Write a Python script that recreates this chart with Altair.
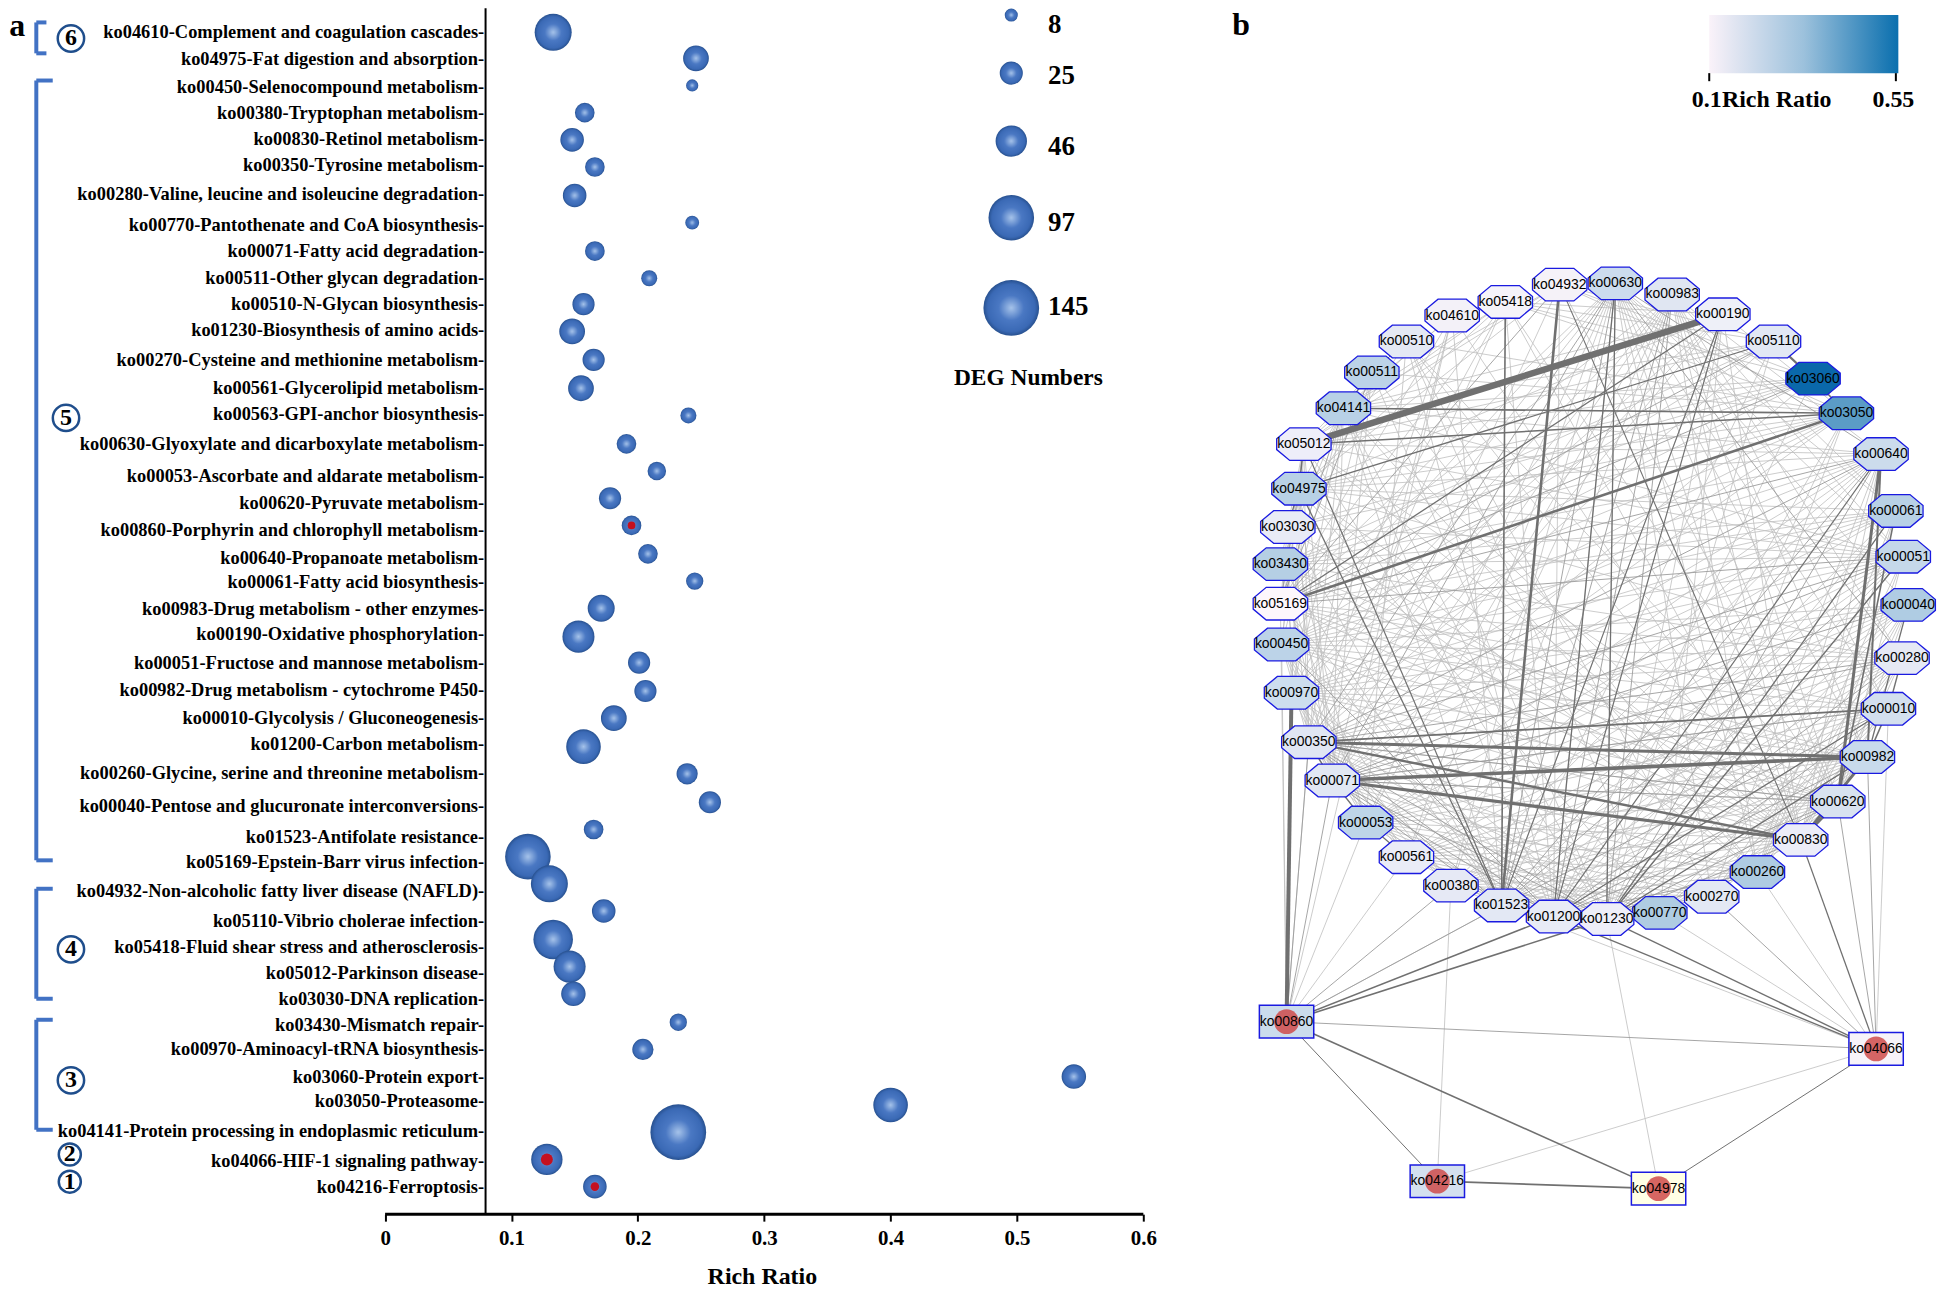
import altair as alt
import pandas as pd

SERIF = "Liberation Serif"
SANS = "Liberation Sans"

# ---------- panel a ----------
pathways = ["ko04610-Complement and coagulation cascades-", "ko04975-Fat digestion and absorption-",
    "ko00450-Selenocompound metabolism-", "ko00380-Tryptophan metabolism-", "ko00830-Retinol metabolism-",
    "ko00350-Tyrosine metabolism-", "ko00280-Valine, leucine and isoleucine degradation-",
    "ko00770-Pantothenate and CoA biosynthesis-", "ko00071-Fatty acid degradation-",
    "ko00511-Other glycan degradation-", "ko00510-N-Glycan biosynthesis-", "ko01230-Biosynthesis of amino acids-",
    "ko00270-Cysteine and methionine metabolism-", "ko00561-Glycerolipid metabolism-",
    "ko00563-GPI-anchor biosynthesis-", "ko00630-Glyoxylate and dicarboxylate metabolism-",
    "ko00053-Ascorbate and aldarate metabolism-", "ko00620-Pyruvate metabolism-",
    "ko00860-Porphyrin and chlorophyll metabolism-", "ko00640-Propanoate metabolism-",
    "ko00061-Fatty acid biosynthesis-", "ko00983-Drug metabolism - other enzymes-",
    "ko00190-Oxidative phosphorylation-", "ko00051-Fructose and mannose metabolism-",
    "ko00982-Drug metabolism - cytochrome P450-", "ko00010-Glycolysis / Gluconeogenesis-",
    "ko01200-Carbon metabolism-", "ko00260-Glycine, serine and threonine metabolism-",
    "ko00040-Pentose and glucuronate interconversions-", "ko01523-Antifolate resistance-",
    "ko05169-Epstein-Barr virus infection-", "ko04932-Non-alcoholic fatty liver disease (NAFLD)-",
    "ko05110-Vibrio cholerae infection-", "ko05418-Fluid shear stress and atherosclerosis-",
    "ko05012-Parkinson disease-", "ko03030-DNA replication-", "ko03430-Mismatch repair-",
    "ko00970-Aminoacyl-tRNA biosynthesis-", "ko03060-Protein export-", "ko03050-Proteasome-",
    "ko04141-Protein processing in endoplasmic reticulum-", "ko04066-HIF-1 signaling pathway-",
    "ko04216-Ferroptosis-"]
label_y = [26, 48, 70, 91, 112, 133, 157, 182, 203, 225, 246, 267, 291, 314, 335, 359, 385, 407, 429, 451, 471,
           493, 513, 536, 558, 581, 602, 625, 652, 677, 697, 721, 745, 766, 787, 808, 829, 849, 871, 891, 915, 939, 960]
rich_ratio = [0.133, 0.246, 0.243, 0.158, 0.148, 0.166, 0.150, 0.243, 0.166, 0.209, 0.157, 0.148, 0.165, 0.155,
              0.240, 0.191, 0.215, 0.178, 0.195, 0.208, 0.245, 0.171, 0.153, 0.201, 0.206, 0.181, 0.157, 0.239,
              0.257, 0.165, 0.113, 0.130, 0.173, 0.133, 0.146, 0.149, 0.232, 0.204, 0.545, 0.400, 0.232, 0.128, 0.166]
bubble_y = [26, 47, 69, 91, 113, 135, 158, 180, 203, 225, 246, 268, 291, 314, 336, 359, 381, 403, 425, 448, 470,
            492, 515, 536, 559, 581, 604, 626, 649, 671, 693, 715, 737, 760, 782, 804, 827, 849, 871, 894, 916, 938, 960]
deg_numbers = [64, 31, 7, 18, 26, 18, 26, 9, 18, 12, 23, 31, 23, 31, 12, 18, 16, 23, 18, 18, 14, 34, 48, 23, 23,
               31, 56, 21, 23, 18, 97, 64, 26, 73, 48, 28, 14, 21, 28, 56, 145, 46, 26]
red_ratio = [0.195, 0.128, 0.166]
red_y = [425, 938, 960]
red_size = [60, 145, 75]

legend_numbers = [8, 25, 46, 97, 145]
legend_y = [12, 59, 114, 176, 249]
legend_label_y = [20, 61, 119, 180, 248]
bracket_v = [(-0.276, 18, 43), (-0.276, 65, 696), (-0.276, 719, 808), (-0.276, 825, 914)]
bracket_h = [(-0.276, -0.268, 18), (-0.276, -0.268, 43), (-0.276, -0.263, 65), (-0.276, -0.263, 696),
             (-0.276, -0.263, 719), (-0.276, -0.263, 808), (-0.276, -0.263, 825), (-0.276, -0.263, 914)]
circled = ["6", "5", "4", "3", "2", "1"]
circled_x = [-0.2486, -0.2525, -0.2486, -0.2486, -0.2495, -0.2495]
circled_y = [31, 338, 768, 874, 934, 956]
circled_size = [700, 700, 700, 700, 490, 490]

# ---------- panel b ----------
ring = ["04932", "00630", "00983", "00190", "05110", "03060", "03050", "00640", "00061", "00051", "00040",
        "00280", "00010", "00982", "00620", "00830", "00260", "00270", "00770", "01230", "01200", "01523",
        "00380", "00561", "00053", "00071", "00350", "00970", "00450", "05169", "03430", "03030", "04975",
        "05012", "04141", "00511", "00510", "04610", "05418"]
ring_x = [1262, 1307, 1353, 1394, 1435, 1467, 1494, 1522, 1534, 1540, 1544, 1539, 1528, 1511, 1487, 1457, 1422,
          1385, 1343, 1300, 1257, 1215, 1174, 1138, 1105, 1078, 1059, 1045, 1037, 1036, 1036, 1042, 1051, 1055,
          1087, 1110, 1138, 1175, 1218]
ring_y = [230, 229, 238, 254, 276, 306, 334, 367, 413, 450, 489, 532, 573, 612, 648, 679, 705, 725, 738, 743,
          741, 732, 716, 693, 665, 631, 600, 560, 521, 488, 456, 426, 395, 359, 330, 301, 276, 255, 244]
ring_fill = ["#f5f2f8", "#ccdcee", "#e0e6f2", "#eef0f8", "#e2e8f4", "#0a68aa", "#5b9cc6", "#ccdcec", "#b8d1e6",
             "#c5d8ea", "#afcce3", "#e6e9f4", "#d3dfee", "#c8daec", "#d8e2f0", "#ecedf8", "#aecbe2", "#e3e8f4",
             "#afcce2", "#eeeef8", "#e8ebf6", "#e3e8f4", "#e6e9f5", "#eaecf7", "#bed5e8", "#e1e7f3", "#e0e6f3",
             "#cddeee", "#bcd3e8", "#fdf7fc", "#b5cfe4", "#e8ebf6", "#b8d1e6", "#eeeef9", "#b8d1e6", "#bcd3e8",
             "#e4e8f4", "#f3f1f8", "#f5f3f9"]
square = ["00860", "04066", "04216", "04978"]
square_x = [1041, 1518, 1163, 1342]
square_y = [826, 848, 955, 961]
square_fill = ["#cbdcec", "#f7f3f9", "#d4e0ef", "#ffffe5"]

thick_edges = [("00190", "05012", 6.5), ("04932", "01523", 2.6), ("05169", "03050", 2.6), ("00970", "00860", 4.0),
               ("00350", "00982", 3.0), ("00071", "00982", 3.6), ("00071", "00830", 3.2), ("00350", "00830", 2.4),
               ("00350", "00010", 1.8), ("00640", "00620", 3.0), ("00982", "00830", 3.0), ("00620", "00830", 3.0),
               ("05418", "01523", 1.6), ("05110", "03060", 2.2), ("03060", "03050", 1.6), ("04141", "03050", 1.6),
               ("05012", "03050", 1.5), ("00860", "01200", 1.5), ("00860", "01230", 1.6), ("00860", "04216", 1.0),
               ("00860", "04978", 1.6), ("04216", "04978", 1.8), ("04978", "04066", 1.0), ("04066", "01200", 1.4),
               ("04066", "01230", 1.4), ("04066", "00830", 1.3), ("00630", "01200", 1.3), ("00630", "01230", 1.3),
               ("00190", "01523", 1.1), ("00190", "01200", 1.2), ("04975", "01523", 1.3), ("05012", "01523", 1.2),
               ("05169", "00190", 1.3), ("04975", "05110", 1.3), ("04932", "00830", 1.1), ("00061", "01230", 1.3),
               ("00051", "01230", 1.4), ("00040", "00982", 1.3), ("00640", "00982", 2.0), ("00640", "01200", 1.2),
               ("00061", "00620", 1.6), ("00010", "00982", 1.6), ("00071", "00350", 1.5), ("00071", "00053", 1.4),
               ("00053", "00561", 1.2), ("05012", "04975", 1.5), ("04975", "03030", 1.4), ("00511", "04141", 1.2),
               ("00510", "00511", 1.0), ("00280", "00010", 1.4), ("00010", "01200", 1.2), ("00982", "01230", 1.3)]
mid_neighbours = {
    "01200": ["00983", "00280", "00982", "00620", "00260", "00770", "00350", "00071", "00450"],
    "01230": ["00983", "00640", "00010", "00620", "00830", "00260", "00270", "00350", "00071"],
    "01523": ["00630", "00640", "00051", "00010", "00350", "00071", "00983"],
    "05169": ["04975", "04932", "05110", "03060", "00511", "04141", "00640", "00051"],
    "00860": ["00071", "00350", "04066", "00380", "01523"],
    "04066": ["00270", "00620", "00982"],
    "00630": ["00071", "00350", "00280", "00640"],
    "00350": ["00640", "00051", "00280", "00620", "00010"],
    "00071": ["00280", "00620", "00010", "00040", "00051"],
}
light_neighbours = {
    "01200": ["00630", "00061", "00051", "00040", "00010", "00830", "00270", "00053", "00561", "00380", "00970",
              "04141", "05169", "00510"],
    "01230": ["00630", "00061", "00051", "00040", "00280", "00982", "00770", "00053", "00561", "00380", "00450",
              "00970", "04141", "05012"],
    "01523": ["00061", "00053", "00380", "00561", "00190", "04610", "05169", "03430", "03030", "04141", "00260",
              "00830", "00620", "00982", "00040", "00280"],
    "05169": ["03030", "05012", "05418", "04610", "00630", "00983", "00061", "00280", "00010", "00982",
              "00830", "00620"],
    "00640": ["00450", "03430", "04975", "00970", "00071", "00053", "04141", "05012", "00561", "00380", "00982",
              "00830", "00260", "00270"],
    "00051": ["00450", "00970", "03030", "03430", "04975", "00053", "00561", "00380", "05012", "04141", "00620",
              "00830", "00260"],
    "00280": ["00970", "00450", "00053", "00561", "00380", "03430", "04975", "00260", "00270", "00770", "00620",
              "00830"],
    "00040": ["00970", "00053", "00561", "00450", "00620", "00830", "00260", "00270", "00350", "00380"],
    "00061": ["03430", "04975", "00970", "00053", "00071", "00350", "00450", "00830", "00260"],
    "00010": ["00053", "00561", "00380", "00970", "00450", "00071", "00260", "00270", "00770"],
    "00982": ["00053", "00561", "00380", "00970", "00450", "00260", "00270", "00770"],
    "00620": ["00053", "00561", "00380", "00970", "00450", "00071", "00350", "00270", "00770"],
    "00830": ["00053", "00561", "00380", "00970", "00450", "00770"],
    "00260": ["00053", "00561", "00380", "00350", "00071"],
    "00270": ["00053", "00561", "00380", "00350", "00071"],
    "00770": ["00053", "00561", "00380", "00350", "00071", "00190"],
    "00630": ["00260", "00270", "00830", "00620", "00982", "00010", "00061", "00051", "00040", "00053",
              "00561", "00380", "00970", "00450"],
    "00983": ["00982", "00830", "00620", "00350", "00071", "00010", "00280", "00053", "00380", "00640", "00051",
              "00061", "00561", "00970", "00260"],
    "05418": ["00970", "00350", "05012", "01200", "00830", "04141", "00190", "05110", "03060", "04975", "03050",
              "00620"],
    "04932": ["00620", "05012", "04141", "04975", "05110", "03060", "03050", "00071", "01200"],
    "00190": ["03050", "04975", "04141", "00970", "00350", "00830", "01230", "00071"],
    "05110": ["04141", "05012", "00350", "03430", "00450", "01230", "01523"],
    "03060": ["04141", "05012", "04975", "03030", "03430", "00450", "01200", "00071"],
    "03050": ["04975", "03030", "03430", "00450", "00970", "00071", "00350", "00510", "00511", "01200", "01230",
              "00770"],
    "04610": ["00860", "05012", "04141", "00071", "00350", "00830"],
    "00511": ["05012", "00970", "00350", "00071", "01230", "00260"],
    "00510": ["00053", "00830", "00620", "00270", "00770", "03030"],
    "04141": ["04975", "03030", "03430", "00450", "00970", "00350", "00071", "00830", "00260"],
    "05012": ["03430", "00450", "00970", "00350", "00071", "00830", "00620"],
    "04975": ["00450", "00970", "00350", "00071", "00830", "00260", "00770"],
    "03030": ["00970", "00350", "00071", "00053", "00260", "00830"],
    "03430": ["00350", "00071", "00053", "00620", "00830"],
    "00450": ["00350", "00071", "00053", "00561", "00380"],
    "00970": ["00071", "00053", "00561", "00380"],
    "00350": ["00561", "00380", "00860"],
    "00071": ["00380"],
    "00053": ["00860"],
    "00561": ["00860"],
    "00860": ["00450", "05169", "01523"],
    "04066": ["00260", "00770", "00010", "01523", "04216"],
    "04216": ["00380"],
    "04978": ["01230"],
}

# ---------- frames ----------
pos = dict(zip(ring, zip(ring_x, ring_y)))
pos.update(zip(square, zip(square_x, square_y)))
edge_rows = []
for a, nbrs in light_neighbours.items():
    edge_rows += [dict(x=pos[a][0], y=pos[a][1], x2=pos[b][0], y2=pos[b][1], w=0.8, c="#bebebe") for b in nbrs]
for a, nbrs in mid_neighbours.items():
    edge_rows += [dict(x=pos[a][0], y=pos[a][1], x2=pos[b][0], y2=pos[b][1], w=0.9, c="#9c9c9c") for b in nbrs]
for a, b, w in thick_edges:
    edge_rows.append(dict(x=pos[a][0], y=pos[a][1], x2=pos[b][0], y2=pos[b][1], w=w, c="#707070"))
edges = pd.DataFrame(edge_rows)

octagon = "M-0.52,-0.6 L0.52,-0.6 L1,-0.2 L1,0.2 L0.52,0.6 L-0.52,0.6 L-1,0.2 L-1,-0.2 Z"
rectangle = "M-1,-0.6 L1,-0.6 L1,0.6 L-1,0.6 Z"
ball = alt.Gradient(gradient="radial", x1=0.5, y1=0.5, x2=0.5, y2=0.5, r1=0, r2=0.5,
                    stops=[alt.GradientStop(offset=0, color="#a6c3ea"),
                           alt.GradientStop(offset=0.45, color="#4a78c3"),
                           alt.GradientStop(offset=0.85, color="#3a69b5"),
                           alt.GradientStop(offset=1, color="#28518f")])

# left panel scales
xa = alt.Scale(domain=[-0.2984, 0.6567], nice=False, zero=False)
ya = alt.Scale(domain=[982.3, 6.45], nice=False, zero=False)
size_scale = alt.Scale(domain=[0, 145], range=[0, 3130])
x_axis = alt.Axis(
    values=[0, 0.1, 0.2, 0.3, 0.4, 0.5, 0.6], format="~g", domain=False, grid=False, tickColor="black",
    tickWidth=2, tickSize=7, labelFont=SERIF, labelFontWeight="bold", labelFontSize=21, labelColor="black",
    labelPadding=6, title="Rich Ratio", titleFont=SERIF, titleFontWeight="bold", titleFontSize=24,
    titleColor="black", titleX=757, titleY=63, titleBaseline="middle")


def X(f):
    return alt.X(f, type="quantitative", scale=xa, axis=x_axis)


def Y(f):
    return alt.Y(f, type="quantitative", scale=ya, axis=None)


base_x = alt.Chart(pd.DataFrame({"x": [0.0], "x2": [0.6], "y": [982.3]})).mark_rule(
    color="black", strokeWidth=3).encode(x=X("x"), x2="x2:Q", y=Y("y"))
vline = alt.Chart(pd.DataFrame({"x": [0.0795], "y": [6.45], "y2": [982.3]})).mark_rule(
    color="black", strokeWidth=2).encode(x=X("x"), y=Y("y"), y2="y2:Q")
brack_v = alt.Chart(pd.DataFrame(bracket_v, columns=["x", "y", "y2"])).mark_rule(
    color="#4272c4", strokeWidth=4).encode(x=X("x"), y=Y("y"), y2="y2:Q")
brack_h = alt.Chart(pd.DataFrame(bracket_h, columns=["x", "x2", "y"])).mark_rule(
    color="#4272c4", strokeWidth=4).encode(x=X("x"), x2="x2:Q", y=Y("y"))
labels = alt.Chart(pd.DataFrame({"t": pathways, "y": label_y, "x": [0.0784] * len(pathways)})).mark_text(
    align="right", baseline="middle", font=SERIF, fontWeight="bold", fontSize=18.5, color="black").encode(
    x=X("x"), y=Y("y"), text="t:N")
bubbles = alt.Chart(pd.DataFrame({"x": rich_ratio, "y": bubble_y, "n": deg_numbers})).mark_circle(
    fill=ball, opacity=1).encode(x=X("x"), y=Y("y"), size=alt.Size("n:Q", scale=size_scale, legend=None))
red = alt.Chart(pd.DataFrame({"x": red_ratio, "y": red_y, "s": red_size})).mark_circle(
    color="#c4101f", opacity=1).encode(x=X("x"), y=Y("y"), size=alt.Size("s:Q", scale=None, legend=None))
leg_b = alt.Chart(pd.DataFrame({"x": [0.4955] * 5, "y": legend_y, "n": legend_numbers})).mark_circle(
    fill=ball, opacity=1).encode(x=X("x"), y=Y("y"), size=alt.Size("n:Q", scale=size_scale, legend=None))
leg_t = alt.Chart(pd.DataFrame({"x": [0.5246] * 5, "y": legend_label_y,
                                "t": [str(v) for v in legend_numbers]})).mark_text(
    align="left", baseline="middle", font=SERIF, fontWeight="bold", fontSize=27, color="black").encode(
    x=X("x"), y=Y("y"), text="t:N")
leg_title = alt.Chart(pd.DataFrame({"x": [0.509], "y": [306], "t": ["DEG Numbers"]})).mark_text(
    align="center", baseline="middle", font=SERIF, fontWeight="bold", fontSize=23.5, color="black").encode(
    x=X("x"), y=Y("y"), text="t:N")
circ_df = pd.DataFrame({"x": circled_x, "y": circled_y, "s": circled_size, "t": circled})
circ = alt.Chart(circ_df).mark_point(shape="circle", filled=True, fill="white", stroke="#1f4e8c",
                                     strokeWidth=2.5, opacity=1).encode(
    x=X("x"), y=Y("y"), size=alt.Size("s:Q", scale=None, legend=None))
circ_t = alt.Chart(circ_df).mark_text(align="center", baseline="middle", font=SERIF, fontSize=24, fontWeight="bold",
                                      color="black").encode(x=X("x"), y=Y("y"), text="t:N")
tag_a = alt.Chart(pd.DataFrame({"x": [-0.2975], "y": [21], "t": ["a"]})).mark_text(
    align="left", baseline="middle", font=SERIF, fontWeight="bold", fontSize=32, color="black").encode(
    x=X("x"), y=Y("y"), text="t:N")

left = alt.layer(base_x, vline, brack_v, brack_h, labels, bubbles, red, leg_b, leg_t, leg_title, circ, circ_t,
                 tag_a).properties(width=1212, height=1211)

# right panel scales
xb = alt.Scale(domain=[983.1, 1555.2], nice=False, zero=False)
yb = alt.Scale(domain=[1005, 6.45], nice=False, zero=False)


def XB(f):
    return alt.X(f, type="quantitative", scale=xb, axis=None)


def YB(f):
    return alt.Y(f, type="quantitative", scale=yb, axis=None)


edge_layer = alt.Chart(edges).mark_rule().encode(
    x=XB("x"), y=YB("y"), x2="x2:Q", y2="y2:Q",
    color=alt.Color("c:N", scale=None, legend=None),
    strokeWidth=alt.StrokeWidth("w:Q", scale=None, legend=None))
ring_df = pd.DataFrame({"x": ring_x, "y": ring_y, "f": ring_fill, "t": ["ko" + r for r in ring]})
sq_df = pd.DataFrame({"x": square_x, "y": square_y, "f": square_fill, "t": ["ko" + r for r in square]})
ring_nodes = alt.Chart(ring_df).mark_point(shape=octagon, size=2980, filled=True, stroke="#1a1ae0", strokeWidth=1.3,
                                           opacity=1).encode(
    x=XB("x"), y=YB("y"), fill=alt.Fill("f:N", scale=None, legend=None))
sq_nodes = alt.Chart(sq_df).mark_point(shape=rectangle, size=2980, filled=True, stroke="#1a1ae0", strokeWidth=1.5,
                                       opacity=1).encode(
    x=XB("x"), y=YB("y"), fill=alt.Fill("f:N", scale=None, legend=None))
sq_red = alt.Chart(sq_df).mark_circle(size=620, color="#cf4b4b", opacity=0.85).encode(x=XB("x"), y=YB("y"))
ring_text = alt.Chart(pd.concat([ring_df, sq_df])).mark_text(
    align="center", baseline="middle", font=SANS, fontSize=14, color="black").encode(
    x=XB("x"), y=YB("y"), text="t:N")
bar_fill = alt.Gradient(gradient="linear", x1=0, y1=0, x2=1, y2=0,
                        stops=[alt.GradientStop(offset=0, color="#faf2f9"),
                               alt.GradientStop(offset=0.5, color="#9cc1dc"),
                               alt.GradientStop(offset=1, color="#0a6fae")])
cbar = alt.Chart(pd.DataFrame({"x": [1383], "x2": [1536], "y": [12], "y2": [59]})).mark_rect(fill=bar_fill).encode(
    x=XB("x"), x2="x2:Q", y=YB("y"), y2="y2:Q")
cbar_tick = alt.Chart(pd.DataFrame({"x": [1383, 1534], "y": [59, 59], "y2": [65.5, 65.5]})).mark_rule(
    color="black", strokeWidth=2).encode(x=XB("x"), y=YB("y"), y2="y2:Q")
cbar_text = alt.Chart(pd.DataFrame({"x": [1381, 1437.6, 1532], "y": [80.5, 80.5, 80.5],
                                    "t": ["0.1", "Rich Ratio", "0.55"]})).mark_text(
    align="center", baseline="middle", font=SERIF, fontWeight="bold", fontSize=24, color="black").encode(
    x=XB("x"), y=YB("y"), text="t:N")
tag_b = alt.Chart(pd.DataFrame({"x": [997], "y": [20], "t": ["b"]})).mark_text(
    align="left", baseline="middle", font=SERIF, fontWeight="bold", fontSize=32, color="black").encode(
    x=XB("x"), y=YB("y"), text="t:N")

right = alt.layer(edge_layer, ring_nodes, sq_nodes, sq_red, ring_text, cbar, cbar_tick, cbar_text, tag_b).properties(
    width=710, height=1240)

chart = alt.hconcat(left, right, spacing=0).properties(
    padding={"left": 0, "right": 0, "top": -3.5, "bottom": 0}).configure_view(stroke=None).configure_concat(spacing=0)
chart.save("out.html", embed_options={"renderer": "svg", "actions": False})
